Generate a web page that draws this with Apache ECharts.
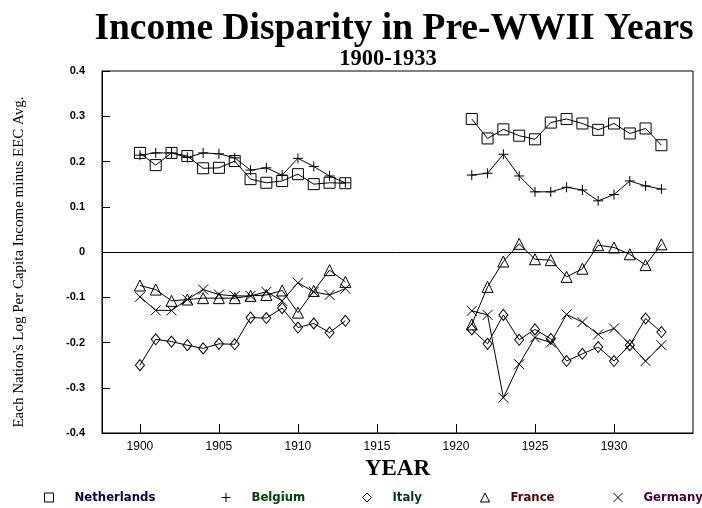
<!DOCTYPE html>
<html>
<head>
<meta charset="utf-8">
<script src="https://cdn.jsdelivr.net/npm/echarts@6/dist/echarts.min.js"></script>
<style>
  html, body { margin: 0; padding: 0; background: #fff; }
  #chart { width: 702px; height: 508px; }
</style>
</head>
<body>
<div id="chart"></div>
<script>
// years of the two observed periods
const yearsEarly = [1900, 1901, 1902, 1903, 1904, 1905, 1906, 1907, 1908, 1909, 1910, 1911, 1912, 1913];
const yearsLate = [1921, 1922, 1923, 1924, 1925, 1926, 1927, 1928, 1929, 1930, 1931, 1932, 1933];
const xTicks = [1900, 1905, 1910, 1915, 1920, 1925, 1930];

const netherlandsEarly = [0.219, 0.192, 0.219, 0.212, 0.185, 0.186, 0.201, 0.161, 0.153, 0.157, 0.172, 0.150, 0.153, 0.152];
const netherlandsLate = [0.294, 0.251, 0.271, 0.257, 0.249, 0.286, 0.294, 0.284, 0.270, 0.284, 0.262, 0.273, 0.236];
const belgiumEarly = [0.214, 0.219, 0.219, 0.209, 0.219, 0.217, 0.208, 0.181, 0.186, 0.170, 0.207, 0.189, 0.168, 0.153];
const belgiumLate = [0.170, 0.174, 0.216, 0.168, 0.133, 0.133, 0.143, 0.137, 0.113, 0.127, 0.157, 0.146, 0.139];
const italyEarly = [-0.250, -0.193, -0.198, -0.206, -0.213, -0.203, -0.204, -0.145, -0.146, -0.124, -0.167, -0.158, -0.178, -0.152];
const italyLate = [-0.171, -0.203, -0.139, -0.194, -0.171, -0.192, -0.241, -0.225, -0.210, -0.241, -0.206, -0.147, -0.177];
const franceEarly = [-0.074, -0.083, -0.108, -0.105, -0.102, -0.102, -0.102, -0.097, -0.095, -0.085, -0.134, -0.086, -0.040, -0.066];
const franceLate = [-0.160, -0.077, -0.021, 0.018, -0.016, -0.018, -0.055, -0.037, 0.015, 0.010, -0.005, -0.029, 0.017];
const germanyEarly = [-0.099, -0.129, -0.129, -0.105, -0.083, -0.094, -0.097, -0.097, -0.088, -0.108, -0.068, -0.088, -0.095, -0.081];
const germanyLate = [-0.130, -0.139, -0.322, -0.248, -0.189, -0.200, -0.138, -0.155, -0.182, -0.169, -0.204, -0.241, -0.206];

const plusPath = 'path://M0,5L10,5M5,0L5,10';
const crossPath = 'path://M0,0L10,10M10,0L0,10';

const countries = [
  { name: 'Netherlands', early: netherlandsEarly, late: netherlandsLate, symbol: 'rect', size: 11, text: '#000050', legendLeft: 44 },
  { name: 'Belgium', early: belgiumEarly, late: belgiumLate, symbol: plusPath, size: 10, text: '#004400', legendLeft: 221 },
  { name: 'Italy', early: italyEarly, late: italyLate, symbol: 'diamond', size: [9, 11], text: '#003333', legendLeft: 362 },
  { name: 'France', early: franceEarly, late: franceLate, symbol: 'triangle', size: 11, text: '#550000', legendLeft: 480 },
  { name: 'Germany', early: germanyEarly, late: germanyLate, symbol: crossPath, size: 10, text: '#440044', legendLeft: 613 }
];

function pairs(years, vals) {
  return years.map((y, i) => [y, vals[i]]);
}

const series = [];
countries.forEach(c => {
  [c.early, c.late].forEach((vals, k) => {
    series.push({
      name: c.name,
      type: 'line',
      data: pairs(k === 0 ? yearsEarly : yearsLate, vals),
      symbol: c.symbol,
      symbolSize: c.size,
      showAllSymbol: true,
      lineStyle: { color: '#000', width: 1 },
      itemStyle: { color: 'transparent', borderColor: '#000', borderWidth: 1 },
      emphasis: { disabled: true },
      animation: false
    });
  });
});
// zero line
series[0].markLine = {
  silent: true,
  symbol: 'none',
  label: { show: false },
  lineStyle: { color: '#000', width: 1, type: 'solid' },
  data: [{ yAxis: 0 }]
};

const legends = countries.map(c => ({
  left: c.legendLeft,
  top: 491,
  padding: 0,
  itemWidth: 9,
  itemHeight: 9,
  selectedMode: false,
  itemStyle: { color: 'transparent', borderColor: '#000', borderWidth: 1 },
  textStyle: {
    fontFamily: '"DejaVu Sans", sans-serif',
    fontWeight: 'bold condensed',
    fontSize: 13,
    color: c.text,
    padding: [0, 0, 0, 16]
  },
  data: [{ name: c.name, icon: c.symbol }]
}));

const chart = echarts.init(document.getElementById('chart'), null, { renderer: 'canvas' });
chart.setOption({
  animation: false,
  backgroundColor: '#fff',
  title: [
    {
      text: 'Income Disparity in Pre-WWII Years',
      left: 389, top: 5, textAlign: 'center',
      textStyle: { fontFamily: '"Liberation Serif", "DejaVu Serif", serif', fontWeight: 'bold', fontSize: 37.5, color: '#000' }
    },
    {
      text: '1900-1933',
      left: 383, top: 43, textAlign: 'center',
      textStyle: { fontFamily: '"Liberation Serif", serif', fontWeight: 'bold', fontSize: 22.5, color: '#000' }
    }
  ],
  legend: legends,
  grid: {
    left: 102, right: 9, top: 71, bottom: 75,
    show: true, borderColor: '#000', borderWidth: 1, backgroundColor: 'transparent'
  },
  xAxis: {
    type: 'value',
    min: 1897.6,
    max: 1935,
    name: 'YEAR',
    nameLocation: 'middle',
    nameGap: 17,
    nameTextStyle: { fontFamily: '"Liberation Serif", serif', fontWeight: 'bold', fontSize: 23, color: '#000' },
    axisLine: { show: true, onZero: false, lineStyle: { color: '#000', width: 1 } },
    axisTick: { show: true, inside: true, length: 9, customValues: xTicks, lineStyle: { color: '#000' } },
    axisLabel: { customValues: xTicks, margin: 8, fontFamily: '"Liberation Sans", Arial, sans-serif', fontSize: 12, color: '#000', formatter: v => String(v) },
    splitLine: { show: false }
  },
  yAxis: {
    type: 'value',
    min: -0.4,
    max: 0.4,
    interval: 0.1,
    name: "Each Nation's Log Per Capita Income minus EEC Avg.",
    nameLocation: 'middle',
    nameGap: 75,
    nameTextStyle: { fontFamily: '"Liberation Serif", serif', fontSize: 15, color: '#000', padding: [0, 20, 0, 0] },
    axisLine: { show: true, lineStyle: { color: '#000', width: 1 } },
    axisTick: { show: true, inside: true, length: 8, lineStyle: { color: '#000' } },
    axisLabel: {
      margin: 17, fontFamily: '"Liberation Sans", Arial, sans-serif', fontWeight: 'bold', fontSize: 11, color: '#000',
      formatter: v => {
        const r = Math.round(v * 10) / 10;
        return r === 0 ? '0' : r.toFixed(1);
      }
    },
    splitLine: { show: false }
  },
  series: series
});
</script>
</body>
</html>
